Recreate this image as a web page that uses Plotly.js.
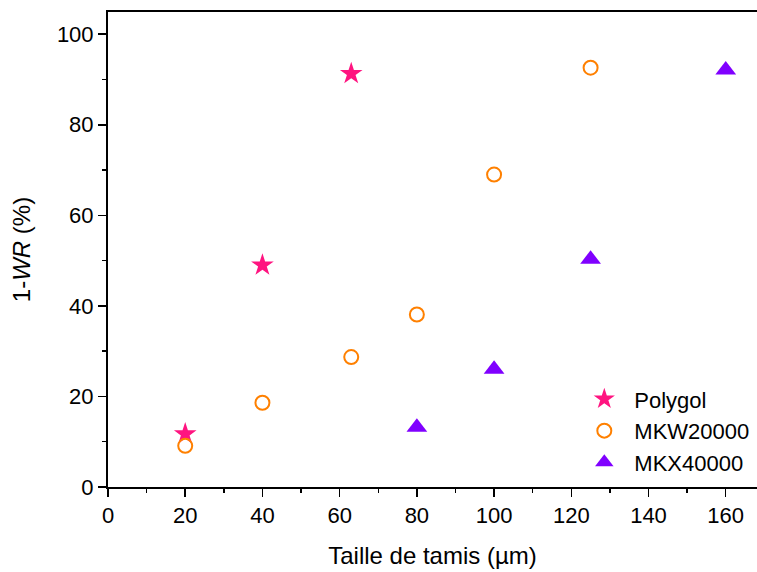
<!DOCTYPE html>
<html>
<head>
<meta charset="utf-8">
<script src="https://cdn.plot.ly/plotly-3.0.1.min.js"></script>
<style>html,body{margin:0;padding:0;background:#fff;}#chart{width:757px;height:572px;}</style>
</head>
<body>
<div id="chart"></div>
<script>
const polygolX = [20, 40, 63];
const polygolY = [11.7, 49.0, 91.3];
const mkwX = [20, 40, 63, 80, 100, 125];
const mkwY = [9.1, 18.6, 28.7, 38.1, 69.0, 92.6];
const mkxX = [80, 100, 125, 160];
const mkxY = [13.2, 26.0, 50.3, 92.1];
const seriesNames = ["Polygol", "MKW20000", "MKX40000"];
const xTicks = [0, 20, 40, 60, 80, 100, 120, 140, 160];
const yTicks = [0, 20, 40, 60, 80, 100];

const font = "Liberation Sans, Arial, sans-serif";
const fs = 22;
const fsTitle = 24;
const traces = [
  {x: polygolX, y: polygolY, name: seriesNames[0], mode: "markers", type: "scatter",
   marker: {symbol: "star", size: 17, color: "#FF1480", line: {width: 0}}},
  {x: mkwX, y: mkwY, name: seriesNames[1], mode: "markers", type: "scatter",
   marker: {symbol: "circle-open", size: 14, color: "#FF8000", line: {width: 2, color: "#FF8000"}}},
  {x: mkxX, y: mkxY, name: seriesNames[2], mode: "markers", type: "scatter",
   marker: {symbol: "triangle-up", size: 18, color: "#8000FF", line: {width: 0}}}
];
const layout = {
  width: 757, height: 572,
  margin: {l: 108, r: 0, t: 12, b: 85},
  paper_bgcolor: "#fff", plot_bgcolor: "#fff",
  font: {family: font, size: fs, color: "#000"},
  showlegend: true,
  legend: {x: 0.7185, xanchor: "left", y: 0.229, yanchor: "top", bgcolor: "rgba(0,0,0,0)",
           font: {family: font, size: fs}, tracegroupgap: 0, itemsizing: "trace", itemwidth: 50},
  xaxis: {range: [0, 168.1], tickvals: xTicks, ticktext: xTicks.map(String),
          showgrid: false, zeroline: false, showline: true, linecolor: "#000", linewidth: 2,
          mirror: true, ticks: "outside", ticklen: 8, tickwidth: 1.5, tickcolor: "#000",
          minor: {dtick: 10, tick0: 0, ticks: "outside", ticklen: 4, tickwidth: 1.5, tickcolor: "#000", showgrid: false},
          tickfont: {family: font, size: fs},
          title: {text: "Taille de tamis (µm)", font: {family: font, size: fsTitle}, standoff: 20}},
  yaxis: {range: [0, 104.9], tickvals: yTicks, ticktext: yTicks.map(String),
          showgrid: false, zeroline: false, showline: true, linecolor: "#000", linewidth: 2,
          mirror: false, ticks: "outside", ticklen: 8, tickwidth: 1.5, tickcolor: "#000",
          minor: {dtick: 10, tick0: 0, ticks: "outside", ticklen: 4, tickwidth: 1.5, tickcolor: "#000", showgrid: false},
          tickfont: {family: font, size: fs},
          title: {text: "1-<i>WR</i> (%)", font: {family: font, size: fsTitle}, standoff: 19}}
};
Plotly.newPlot("chart", traces, layout, {displayModeBar: false, staticPlot: true});
</script>
</body>
</html>
